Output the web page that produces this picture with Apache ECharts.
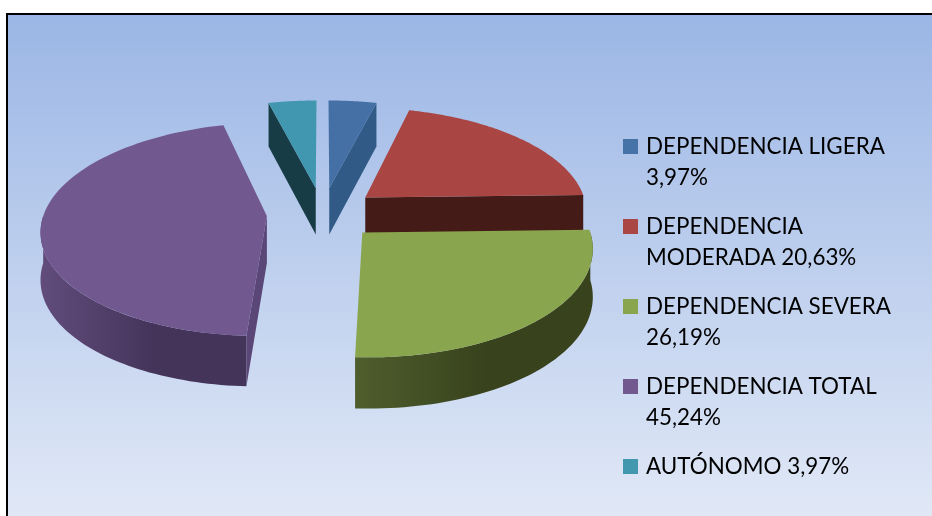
<!DOCTYPE html>
<html><head><meta charset="utf-8">
<script src="https://cdn.jsdelivr.net/npm/echarts@6/dist/echarts.min.js"></script>
<style>html,body{margin:0;padding:0;background:#fff}#c{width:932px;height:516px}</style>
</head><body><div id="c"></div>
<script>
const categories = ['DEPENDENCIA LIGERA','DEPENDENCIA MODERADA','DEPENDENCIA SEVERA','DEPENDENCIA TOTAL','AUTÓNOMO'];
const values = [3.97,20.63,26.19,45.24,3.97];
const valueLabels = ['3,97%','20,63%','26,19%','45,24%','3,97%'];
const legendLines = ['DEPENDENCIA LIGERA\n3,97%','DEPENDENCIA\nMODERADA 20,63%','DEPENDENCIA SEVERA\n26,19%','DEPENDENCIA TOTAL\n45,24%','AUTÓNOMO 3,97%\n '];
const topColors = ['#4470A5','#A94644','#89A54E','#71588F','#4197AF'];
const legendColors = ['#4572A7','#AA4643','#89A54E','#71588F','#4198AF'];
const cutColors = ['#315A87','#451B18','#39421C','#5B4678','#183C46'];
const wallColorsLeft = ['#315A87','#451B18','#4F5E2D','#614C7C','#183C46'];
const wallColorsRight = ['#315A87','#451B18','#38421C','#44345A','#183C46'];
const drawOrder = [0,4,1,3,2];

const cx=322.5, cy=213.5, R=223, K=104.4, P=0.1226, EXPLODE=0.25, DEPTH=47;
const total = values.reduce((a,b)=>a+b,0);
const starts=[]; let acc=0; values.forEach(v=>{starts.push(acc/total*360);acc+=v;});
const rad=d=>d*Math.PI/180;
function proj(u,v,h){
  const s=1/(1-P*v);
  return [cx+R*u*s, cy+K*v*s+(h?DEPTH*Math.pow(s,0.55):0)];
}
function renderSlice(i){
  return function(params,api){
    const span=api.value(0)/total*360, a=starts[i], b=a+span, mid=rad(a+span/2);
    const ou=EXPLODE*Math.sin(mid), ov=-EXPLODE*Math.cos(mid);
    const rim=(t,h)=>proj(ou+Math.sin(rad(t)),ov-Math.cos(rad(t)),h);
    const apex=h=>proj(ou,ov,h);
    const kids=[];
    const poly=(pts,fill)=>kids.push({type:'polygon',shape:{points:pts},style:{fill:fill}});
    if(Math.sin(rad(a))<0) poly([apex(0),rim(a,0),rim(a,1),apex(1)],cutColors[i]);
    if(Math.sin(rad(b))>0) poly([apex(0),rim(b,0),rim(b,1),apex(1)],cutColors[i]);
    const w0=Math.max(a,90), w1=Math.min(b,270);
    if(w1>w0){
      const t=[],l=[];
      for(let k=0;k<=60;k++){const th=w0+(w1-w0)*k/60;t.push(rim(th,0));l.unshift(rim(th,1));}
      poly(t.concat(l),{type:'linear',x:0,y:0,x2:1,y2:0,colorStops:[{offset:0,color:wallColorsLeft[i]},{offset:0.55,color:wallColorsRight[i]},{offset:1,color:wallColorsRight[i]}]});
    }
    const top=[apex(0)];
    for(let k=0;k<=80;k++) top.push(rim(a+span*k/80,0));
    poly(top,topColors[i]);
    return {type:'group',children:kids};
  };
}
const names=categories.map((c,i)=>c+' '+valueLabels[i]);
const series=drawOrder.map(i=>({
  type:'custom',name:names[i],coordinateSystem:'none',silent:true,
  itemStyle:{color:legendColors[i]},
  renderItem:renderSlice(i),data:[[values[i]]],animation:false
}));
const ICON='path://M0 0H15V15H0Z M0 46H15V46H0Z';
const chart=echarts.init(document.getElementById('c'),null,{renderer:'canvas'});
chart.setOption({
  animation:false,
  graphic:[{type:'rect',z:-10,silent:true,shape:{x:7,y:14,width:960,height:560},
    style:{stroke:'#000',lineWidth:2,fill:{type:'linear',x:0,y:0,x2:0,y2:1,global:false,
      colorStops:[{offset:0,color:'#9BB6E5'},{offset:0.89,color:'#E0E8F6'},{offset:1,color:'#E0E8F6'}]}}}],
  legend:{
    orient:'vertical',left:623,top:131,height:800,padding:0,itemWidth:15,itemHeight:46,itemGap:18,selectedMode:false,
    data:names.map((n,i)=>({name:n,icon:ICON,itemStyle:{color:legendColors[i]}})),
    formatter:n=>legendLines[names.indexOf(n)],
    textStyle:{fontFamily:'Lato',fontSize:22.4,lineHeight:31,color:'#000',padding:[0,0,0,3]}
  },
  series:series
});
</script></body></html>
